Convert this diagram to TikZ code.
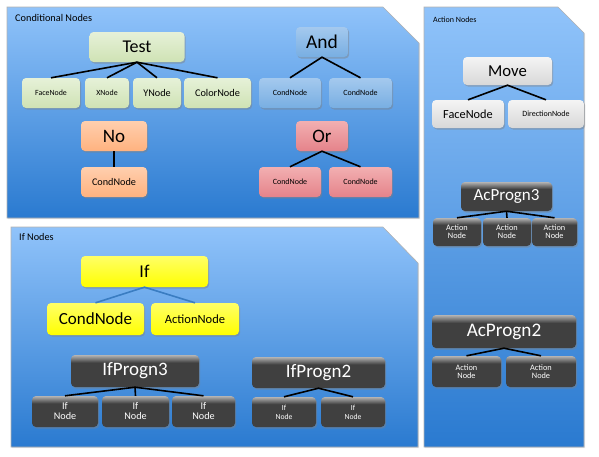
\documentclass[tikz,border=0pt]{standalone}
\usepackage{fontspec}
\setmainfont{Carlito}
\usetikzlibrary{shadows}
\definecolor{panelTop}{HTML}{90C3FA}
\definecolor{panelBot}{HTML}{2A7AD0}
\definecolor{grnTop}{HTML}{E6F1D8}
\definecolor{grnBot}{HTML}{CFE2B4}
\definecolor{bluTop}{HTML}{A4C9EE}
\definecolor{bluBot}{HTML}{78AEE2}
\definecolor{orgTop}{HTML}{FFCFAE}
\definecolor{orgBot}{HTML}{FFB27F}
\definecolor{redTop}{HTML}{F2AFB1}
\definecolor{redBot}{HTML}{E5838A}
\definecolor{gryTop}{HTML}{F4F4F4}
\definecolor{gryBot}{HTML}{D8D8D8}
\definecolor{ylwTop}{HTML}{FFFF66}
\definecolor{ylwBot}{HTML}{FFFF00}
\definecolor{nodeDark}{HTML}{404040}
\definecolor{nodeGloss}{HTML}{B4B4B4}
\definecolor{ifLink}{HTML}{3A7DC2}
\pgfdeclareverticalshading{gloss}{100bp}{color(0bp)=(nodeDark); color(25bp)=(nodeDark); color(63bp)=(nodeDark); color(75bp)=(nodeGloss); color(100bp)=(nodeGloss)}

\begin{document}
\begin{tikzpicture}[x=1pt, y=-1pt,
    panel/.style={draw=black!30, line width=0.6pt, top color=panelTop, bottom color=panelBot,
      drop shadow={opacity=0.2, shadow xshift=1pt, shadow yshift=-1pt}},
    box/.style={rounded corners=4pt, inner sep=0pt, align=center,
      drop shadow={opacity=0.45, shadow xshift=1.2pt, shadow yshift=-1.5pt}},
    sz/.style 2 args={minimum width=#1, minimum height=#2},
    fnt/.style={font=\fontsize{#1}{#1}\selectfont},
    greenbox/.style={box, top color=grnTop, bottom color=grnBot},
    bluebox/.style={box, top color=bluTop, bottom color=bluBot},
    orangebox/.style={box, top color=orgTop, bottom color=orgBot},
    redbox/.style={box, top color=redTop, bottom color=redBot},
    graybox/.style={box, top color=gryTop, bottom color=gryBot},
    yellowbox/.style={box, top color=ylwTop, bottom color=ylwBot},
    darkbox/.style={box, shading=gloss, text=white},
    link/.style={line width=1.6pt},
    paneltitle/.style={anchor=west, inner sep=0pt}]
  \useasboundingbox (0,0) rectangle (599,456);

  % panels
  \path[panel] (7,7) -- (383,7) -- (419,43) -- (419,218) -- (7,218) -- cycle;
  \path[panel] (424,7) -- (558,7) -- (584,33) -- (584,447) -- (424,447) -- cycle;
  \path[panel] (11,227) -- (383,227) -- (418,263) -- (418,447) -- (11,447) -- cycle;
  \node[paneltitle, fnt=10.3] (condlbl) at (15,17.5) {Conditional Nodes};
  \node[paneltitle, fnt=8] (actlbl) at (433,19.5) {Action Nodes};
  \node[paneltitle, fnt=10.2] (iflbl) at (19,236.5) {If Nodes};

  % conditional nodes
  \node[greenbox, sz={95}{30}, fnt=18] (test) at (137,47) {Test};
  \node[greenbox, sz={58}{30}, fnt=7.9] (tface) at (51,93) {FaceNode};
  \node[greenbox, sz={44}{30}, fnt=7.9] (tx) at (107,93) {XNode};
  \node[greenbox, sz={48}{30}, fnt=10.2] (ty) at (157,93) {YNode};
  \node[greenbox, sz={67}{30}, fnt=10.3] (tcolor) at (217.5,93) {ColorNode};
  \foreach \c in {tface, tx, ty, tcolor}
    \draw[link] (test.south) -- (\c.north);

  \node[orangebox, sz={66}{30}, fnt=19] (no) at (114,136) {No};
  \node[orangebox, sz={66}{30}, fnt=10.2] (nocond) at (114,182) {CondNode};
  \draw[link] (no.south) -- (nocond.north);

  \node[bluebox, sz={52}{30}, fnt=19.5] (and) at (322,42) {And};
  \node[bluebox, sz={62}{30}, fnt=8] (andc1) at (290,93) {CondNode};
  \node[bluebox, sz={63}{30}, fnt=8] (andc2) at (360.5,93) {CondNode};
  \draw[link] (andc1.north) -- (and.south) -- (andc2.north);

  \node[redbox, sz={52}{30}, fnt=19] (or) at (322,136) {Or};
  \node[redbox, sz={62}{30}, fnt=8] (orc1) at (290,182) {CondNode};
  \node[redbox, sz={63}{30}, fnt=8] (orc2) at (360.5,182) {CondNode};
  \draw[link] (orc1.north) -- (or.south) -- (orc2.north);

  % action nodes
  \node[graybox, sz={89}{28}, fnt=16.7] (move) at (507.5,71) {Move};
  \node[graybox, sz={72}{28}, fnt=12.3] (mface) at (468,114) {FaceNode};
  \node[graybox, sz={76}{28}, fnt=8] (mdir) at (546,114) {DirectionNode};
  \draw[link] (mface.north) -- (move.south) -- (mdir.north);

  \node[darkbox, sz={91}{29}, fnt=17] (acp3) at (506.5,196.5) {AcProgn3};
  \node[darkbox, sz={48}{28}, font=\fontsize{8.3}{8}\selectfont] (acp3a) at (457,232) {Action\\Node};
  \node[darkbox, sz={48}{28}, font=\fontsize{8.3}{8}\selectfont] (acp3b) at (507,232) {Action\\Node};
  \node[darkbox, sz={45}{28}, font=\fontsize{8.3}{8}\selectfont] (acp3c) at (554.5,232) {Action\\Node};
  \foreach \c in {acp3a, acp3b, acp3c}
    \draw[link] (acp3.south) -- (\c.north);

  \node[darkbox, sz={144}{33}, fnt=19.2] (acp2) at (504,331.5) {AcProgn2};
  \node[darkbox, sz={69}{31}, font=\fontsize{8.3}{8}\selectfont] (acp2a) at (466.5,371.5) {Action\\Node};
  \node[darkbox, sz={70}{31}, font=\fontsize{8.3}{8}\selectfont] (acp2b) at (541,371.5) {Action\\Node};
  \draw[link] (acp2a.north) -- (acp2.south) -- (acp2b.north);

  % if nodes
  \node[yellowbox, sz={127}{31}, fnt=18] (if) at (144.5,271.5) {If};
  \node[yellowbox, sz={97}{32}, fnt=17] (ifcond) at (95.5,319) {CondNode};
  \node[yellowbox, sz={88}{32}, fnt=12.5] (ifact) at (195,319) {ActionNode};
  \draw[link, ifLink] (ifcond.north) -- (if.south) -- (ifact.north);

  \node[darkbox, sz={128}{32}, fnt=19] (ifp3) at (135,371) {IfProgn3};
  \node[darkbox, sz={66}{31}, font=\fontsize{10.2}{10}\selectfont] (ifp3a) at (65,411.5) {If\\Node};
  \node[darkbox, sz={67}{31}, font=\fontsize{10.2}{10}\selectfont] (ifp3b) at (135.5,411.5) {If\\Node};
  \node[darkbox, sz={63}{31}, font=\fontsize{10.2}{10}\selectfont] (ifp3c) at (203.5,411.5) {If\\Node};
  \foreach \c in {ifp3a, ifp3b, ifp3c}
    \draw[link] (ifp3.south) -- (\c.north);

  \node[darkbox, sz={133}{31}, fnt=19] (ifp2) at (318.5,372.5) {IfProgn2};
  \node[darkbox, sz={64}{30}, font=\fontsize{7.7}{9}\selectfont] (ifp2a) at (284,412) {If\\Node};
  \node[darkbox, sz={64}{30}, font=\fontsize{7.7}{9}\selectfont] (ifp2b) at (353,412) {If\\Node};
  \draw[link] (ifp2a.north) -- (ifp2.south) -- (ifp2b.north);
\end{tikzpicture}
\end{document}
